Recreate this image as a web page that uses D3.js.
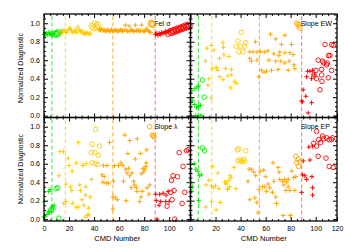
<!DOCTYPE html>
<html>
<head>
<meta charset="utf-8">
<script src="https://cdn.jsdelivr.net/npm/d3@7"></script>
<style>body{margin:0;background:#fff}</style>
</head>
<body>
<script>
const groupColors = ['#00ee00', '#ffcc00', '#ffa500', '#ff0000']
const lineColors = ['#33ee33', '#ffd24d', '#ffad33', '#ff6f6f']
const cutLines = [6.3, 17, 55, 88.8]
const yTicks = [0, 0.2, 0.4, 0.6, 0.8, 1.0]
const xTicksLeft = [0, 20, 40, 60, 80, 100]
const xTicksRight = [0, 20, 40, 60, 80, 100, 120]
const panelNames = ['FeI σ', 'Slope EW', 'Slope λ', 'Slope EP']

// [cmd, value, group]
const feSigmaPlus = [
  [0,0.88,0],[0.8,0.89,0],[1.5,0.87,0],[2.2,0.89,0],[3,0.88,0],[3.8,0.90,0],[4.5,0.88,0],[5.2,0.89,0],[6,0.87,0],[6.8,0.89,0],[7.5,0.88,0],
  [13,0.89,1],[14,0.92,1],[15,0.90,1],[16,0.93,1],[17,0.91,1],[18,0.90,1],[19,0.92,1],[20,0.94,1],[21,0.95,1],[22,0.92,1],[23,0.90,1],[24,0.91,1],[25,0.93,1],
  [26,0.90,1],[27,0.96,1],[28,0.93,1],[29,0.91,1],[30,0.92,1],[31,0.89,1],[32,0.90,1],[33,0.88,1],[34,0.90,1],[35,0.89,1],[36,0.88,1],[37,0.89,1],
  [44,0.93,2],[45,0.92,2],[46,0.94,2],[47,0.92,2],[48,0.93,2],[49,0.91,2],[50,0.92,2],[51,0.93,2],[52,0.91,2],[53,0.92,2],[54,0.93,2],[55,0.91,2],
  [56,0.92,2],[57,0.93,2],[58,0.92,2],[59,0.91,2],[60,0.92,2],[61,0.93,2],[62,0.92,2],[63,0.91,2],[64,0.93,2],[65,0.98,2],[66,0.92,2],[67,0.91,2],
  [68,0.97,2],[69,0.92,2],[70,0.93,2],[71,0.92,2],[72,0.91,2],[73,0.98,2],[74,0.92,2],[75,0.93,2],[76,0.91,2],[77,0.92,2],[78,0.98,2],[79,0.92,2],
  [80,0.91,2],[81,0.92,2],[82,0.94,2],[83,0.92,2],[84,0.91,2],[85,0.90,2],
  [89,0.88,3],[90,0.89,3],[91,0.87,3],[92,0.89,3],[93,0.88,3],[94,0.90,3],[95,0.89,3],[96,0.90,3],[97,0.91,3],[98,0.90,3],[99,0.91,3],[100,0.92,3]
]
const feSigmaRing = [
  [8.5,0.88,0],[9.5,0.89,0],[10.5,0.88,0],[11.5,0.90,0],
  [38.5,0.97,1],[39.8,0.95,1],[40.6,0.99,1],[41.9,0.96,1],[43,0.98,1],
  [85.5,1.0,2],[86.3,0.99,2],[87,0.985,2],
  [99,0.89,3],[101,0.91,3],[102,0.90,3],[103,0.92,3],[104,0.91,3],[105,0.93,3],[106,0.92,3],[107,0.94,3],[108,0.93,3],[109,0.95,3],
  [110,0.94,3],[111,0.96,3],[112,0.95,3],[113,0.97,3],[114,0.96,3],[115,0.98,3],[116,0.97,3]
]

const slopeEWPlus = [
  [0.3,0.34,0],[1.0,0.27,0],[3.5,0.29,0],[5.2,0.31,0],[6.7,0.32,0],[0.1,0.18,0],[1.5,0.16,0],[3.0,0.12,0],[4.8,0.09,0],[6.5,0.10,0],[8,0.11,0],[3.8,0,0],[6.2,0,0],[8.2,0,0],
  [13.1,0.73,1],[16.6,0.76,1],[12.0,0.59,1],[18.7,0.71,1],[25.9,0.79,1],[26.4,0.74,1],[23.2,0.62,1],[26.7,0.66,1],[30.7,0.64,1],[17.4,0.51,1],[20.6,0.52,1],[21.9,0.49,1],
  [28,0.51,1],[32.6,0.50,1],[23.2,0.42,1],[25.9,0.39,1],[29.9,0.43,1],[32.6,0.44,1],[35.3,0.37,1],[36.6,0.35,1],[32,0.30,1],[14.7,0.40,1],[13.9,0.33,1],[16.6,0.19,1],
  [51.8,0.80,2],[47.3,0.69,2],[49.9,0.69,2],[53.1,0.69,2],[55.8,0.69,2],[59.3,0.69,2],[61.9,0.70,2],[63.8,0.88,2],[68.1,0.83,2],[75.3,0.87,2],[72.7,0.77,2],[80.7,0.77,2],
  [71.3,0.69,2],[66.5,0.67,2],[70.5,0.65,2],[75.3,0.68,2],[79.3,0.68,2],[82,0.66,2],[47.3,0.62,2],[48.6,0.59,2],[53.1,0.60,2],[62.5,0.60,2],[68.1,0.59,2],[72.1,0.59,2],
  [75.3,0.57,2],[78.8,0.59,2],[82.5,0.55,2],[83.3,0.51,2],[70,0.50,2],[64.7,0.49,2],[56.7,0.49,2],[58.7,0.47,2],[60.7,0.48,2],[78,0.49,2],[54.7,0.42,2],
  [93.5,0.48,3],[95.4,0.48,3],[97.5,0.49,3],[92.7,0.42,3],[96.7,0.40,3],[98.8,0.44,3],[90,0.28,3],[92.1,0.21,3],[88.7,0.16,3],[89.3,0.15,3],[96.7,0.14,3],[94,0.03,3]
]
const slopeEWRing = [
  [9.6,0.385,0],[11,0.20,0],
  [40.6,0.90,1],[37.9,0.81,1],[44.1,0.79,1],[36.6,0.75,1],[40,0.75,1],[43.3,0.75,1],[38.7,0.69,1],[41.9,0.69,1],
  [84.7,1.0,2],[86,0.99,2],[87.3,0.95,2],[86.5,0.97,2],
  [107.4,0.77,3],[112.7,0.77,3],[114,0.76,3],[111.4,0.65,3],[102,0.60,3],[105.5,0.59,3],[106.6,0.57,3],[109.2,0.57,3],[108.7,0.55,3],[100.2,0.49,3],
  [104.7,0.50,3],[112.7,0.49,3],[98.6,0.44,3],[100.7,0.40,3],[104.7,0.44,3],[110,0.41,3],[103.4,0.28,3],[105,0.37,3],[110.3,0.65,3]
]

const slopeLamPlus = [
  [0.3,0.19,0],[0.5,0.03,0],[2.4,0.05,0],[3.5,0.08,0],[3.7,0.30,0],[5,0.32,0],[4.3,0.07,0],[4.8,0.11,0],[6.2,0.08,0],[6.4,0.13,0],[7.0,0.14,0],[7.7,0.11,0],[8,0.15,0],[0,0.02,0],
  [12.8,0.73,1],[15.5,0.73,1],[12.0,0.47,1],[19.3,0.66,1],[20,0.58,1],[17.5,0.38,1],[21.3,0.35,1],[22.2,0.31,1],[15.7,0.17,1],[17.6,0.19,1],[23,0.17,1],[25.6,0.13,1],
  [27.5,0.13,1],[27.6,0.83,1],[33.7,0.60,1],[25.8,0.61,1],[31,0.58,1],[35.5,0.12,1],[32.9,0.02,1],[34.7,0.04,1],[28.6,0.37,1],[33.4,0.35,1],[29.1,0.31,1],[33.1,0.26,1],
  [36.9,0.24,1],[30.2,0.21,1],[22.5,0.52,1],[31.8,0.15,1],[35.8,0.05,1],[37.9,0.43,1],
  [52.3,0.83,2],[47.5,0.58,2],[50.2,0.58,2],[46.3,0.48,2],[48.1,0.46,2],[47,0.40,2],[49.7,0.39,2],[51.5,0.39,2],[55.5,0.41,2],[55,0.24,2],[56.9,0.23,2],[55,0.11,2],
  [56.3,0.58,2],[59.5,0.58,2],[61.4,0.61,2],[63,0.58,2],[64.5,0.91,2],[68.5,0.85,2],[74.5,0.87,2],[67.5,0.55,2],[66.3,0.50,2],[63.5,0.41,2],[65.7,0.20,2],[58.7,0.21,2],
  [70.3,0.50,2],[71.6,0.41,2],[69.7,0.34,2],[73.7,0.34,2],[74.3,0.30,2],[77.5,0.24,2],[72.9,0.65,2],[77,0.71,2],[79.6,0.51,2],[80.4,0.54,2],[81.5,0.57,2],[82,0.75,2],
  [82.3,0.34,2],[81.7,0.61,2],[65.2,0.54,2],[68.4,0.47,2],[79.1,0.55,2],[77.7,0.49,2],[72.4,0.37,2],[84.4,0.37,2],[78.5,0.30,2],[83.9,0.27,2],[76.4,0.19,2],[67,0.71,2],
  [89.2,0.27,3],[92.4,0.27,3],[95.1,0.28,3],[99.1,0.30,3],[97.5,0.26,3],[89.7,0.20,3],[93.2,0.19,3],[97.2,0.19,3],[99.9,0.19,3],[91.9,0.15,3],[90.3,0,3]
]
const slopeLamRing = [
  [9.6,0.33,0],[11,0.34,0],[11.8,0.01,0],
  [41.1,0.97,1],[38.5,0.81,1],[44.3,0.79,1],[37.9,0.72,1],[40.6,0.72,1],[43.3,0.69,1],[38.5,0.61,1],[41.1,0.60,1],[43,0.59,1],
  [84.4,1.0,2],[86.5,0.91,2],[87.9,0.89,2],[87.2,0.90,2],
  [101.8,0.42,3],[103.1,0.47,3],[106.6,0.46,3],[111.1,0.57,3],[113.8,0.74,3],[115.2,0.75,3],[108,0.72,3],[103.9,0.31,3],[101.2,0.29,3],
  [112.4,0.29,3],[110.3,0.17,3],[98.3,0.14,3],[102.3,0.21,3],[104.4,0,3]
]

const slopeEPPlus = [
  [3.1,0.60,0],[4.1,0.54,0],[5.9,0.52,0],[7.1,0.47,0],[8.7,0.48,0],[0.2,0.40,0],[1.4,0.35,0],[1.0,0.30,0],[6.5,0.20,0],
  [17.5,0.57,1],[14.7,0.42,1],[16.6,0.36,1],[20,0.36,1],[21.8,0.50,1],[22.7,0.33,1],[28.6,0.40,1],[30.7,0.42,1],[32.5,0.45,1],[31.3,0.35,1],[34.8,0.56,1],[36.2,0.33,1],
  [29.9,0.33,1],[16.7,0.19,1],[12.1,0.13,1],[20.5,0.10,1],[23.8,0.18,1],[12.3,0.37,1],[18.4,0.34,1],[27.2,0.40,1],[31.5,0.47,1],[28.3,0.38,1],[29.6,0.32,1],
  [46.7,0.54,2],[48.6,0.54,2],[45.9,0.41,2],[50.5,0.51,2],[52.1,0.47,2],[47.3,0.21,2],[51.3,0.23,2],[53.1,0.18,2],[53.9,0.07,2],[54.7,0.32,2],[55.8,0.52,2],[57.5,0.35,2],
  [59.3,0.35,2],[60.7,0.30,2],[58.5,0.53,2],[63.3,0.34,2],[65.5,0.29,2],[65.9,0.61,2],[66.5,0.41,2],[68.1,0.24,2],[68.7,0.17,2],[70,0.56,2],[70.8,0.51,2],[71.3,0.43,2],
  [73.5,0.41,2],[75.3,0.43,2],[76.7,0.40,2],[78,0.43,2],[74.5,0.37,2],[78,0.35,2],[76.1,0.31,2],[79.3,0.31,2],[83.3,0.31,2],[74,0.04,2],[79.9,0.04,2],[84.1,0.46,2],
  [60.1,0.46,2],[80.9,0.52,2],[82.3,0.45,2],[62,0.38,2],
  [90,0.63,3],[95.4,0.64,3],[89.5,0.48,3],[91.3,0.47,3],[92.7,0.43,3],[88.7,0.29,3],[97.5,0.34,3],[97.5,0.26,3],[94.5,0.78,3],[97.5,0.79,3],[97,0.46,3]
]
const slopeEPRing = [
  [9.5,0.77,0],[11.3,0.74,0],
  [37.4,0.75,1],[38.7,0.76,1],[44.1,0.74,1],[39.3,0.64,1],[40.6,0.63,1],[42.5,0.65,1],[37.9,0.63,1],[43.3,0.63,1],[41.4,0.62,1],
  [84.1,0.68,2],[86,0.65,2],[84.7,0.61,2],[87.3,0.62,2],[86.3,0.57,2],
  [100.7,0.95,3],[105.5,0.90,3],[108.7,0.88,3],[110.8,0.86,3],[112.7,0.86,3],[103.9,0.83,3],[100.7,0.79,3],[98.3,0.82,3],[102.3,0.86,3],
  [106.3,0.87,3],[113.5,0.88,3],[102,0.68,3],[108.2,0.66,3],[110.8,0.57,3],[114,0.56,3]
]

const panels = [
  { name: panelNames[0], plus: feSigmaPlus, ring: feSigmaRing, col: 0, row: 0, r: 3.1 },
  { name: panelNames[1], plus: slopeEWPlus, ring: slopeEWRing, col: 1, row: 0, r: 2.3 },
  { name: panelNames[2], plus: slopeLamPlus, ring: slopeLamRing, col: 0, row: 1, r: 2.3 },
  { name: panelNames[3], plus: slopeEPPlus, ring: slopeEPRing, col: 1, row: 1, r: 2.3 },
]

const colX = [[44, 190.5], [190.5, 337]]
const rowY = [[117.5, 14], [221, 117.5]]
const font = 'Liberation Sans, Arial, sans-serif'

const svgEl = d3.create('svg')
svgEl.attr('width', 350)
svgEl.attr('height', 250)
svgEl.style('background', '#fff')

panels.forEach((p) => {
  const x = d3.scaleLinear().domain([0, 117]).range(colX[p.col]).clamp(true)
  const y = d3.scaleLinear().domain([-0.02, 1.1]).range(rowY[p.row])
  const g = svgEl.append('g')

  g.selectAll('line.cut')
    .data(cutLines)
    .join('line')
    .attr('x1', (d) => x(d)).attr('x2', (d) => x(d))
    .attr('y1', y.range()[0]).attr('y2', y.range()[1])
    .attr('stroke', (d, i) => lineColors[i])
    .attr('stroke-width', 1)
    .attr('stroke-dasharray', '4,2.5')

  g.append('text')
    .attr('x', x(88))
    .attr('y', y(1.0))
    .attr('dy', '0.35em')
    .attr('font-family', font)
    .attr('font-size', 7)
    .text(p.name)

  g.selectAll('path.plus')
    .data(p.plus)
    .join('path')
    .attr('transform', (d) => `translate(${x(d[0])},${y(d[1])})`)
    .attr('d', 'M-2.3,0H2.3M0,-2.3V2.3')
    .attr('stroke', (d) => groupColors[d[2]])
    .attr('stroke-width', 1)

  g.selectAll('circle.ring')
    .data(p.ring)
    .join('circle')
    .attr('cx', (d) => x(d[0]))
    .attr('cy', (d) => y(d[1]))
    .attr('r', p.r)
    .attr('fill', 'none')
    .attr('stroke', (d) => groupColors[d[2]])
    .attr('stroke-width', 0.9)

  const [x0, x1] = x.range()
  const [yb, yt] = y.range()
  const xt = p.col === 0 ? xTicksLeft : xTicksRight
  const minorX = d3.range(0, 118, 5).filter((v) => v % 20 !== 0)
  const minorY = d3.range(0, 1.1, 0.05).filter((v, i) => i % 4 !== 0)

  const axes = [
    [d3.axisBottom(x).tickValues(xt), `translate(0,${yb})`, p.row === 1, d3.axisBottom(x).tickValues(minorX)],
    [d3.axisTop(x).tickValues(xt), `translate(0,${yt})`, false, d3.axisTop(x).tickValues(minorX)],
    [d3.axisLeft(y).tickValues(yTicks), `translate(${x0},0)`, p.col === 0, d3.axisLeft(y).tickValues(minorY)],
    [d3.axisRight(y).tickValues(yTicks), `translate(${x1},0)`, false, d3.axisRight(y).tickValues(minorY)],
  ]
  axes.forEach(([ax, tr, labels, minor], k) => {
    ax.tickSizeInner(-4).tickSizeOuter(0).tickPadding(k < 2 ? 5.5 : 4)
    if (k >= 2) ax.tickFormat(d3.format('.1f'))
    if (!labels) ax.tickFormat('')
    const a = g.append('g').attr('transform', tr).call(ax)
    a.select('.domain').remove()
    a.selectAll('text').attr('font-family', font).attr('font-size', 7).attr('fill', '#000')
    const m = g.append('g').attr('transform', tr).call(minor.tickSizeInner(-2).tickSizeOuter(0).tickFormat(''))
    m.select('.domain').remove()
  })

  g.append('rect')
    .attr('x', x0).attr('y', yt)
    .attr('width', x1 - x0).attr('height', yb - yt)
    .attr('fill', 'none')
    .attr('stroke', '#000')
    .attr('stroke-width', 1.3)

  if (p.col === 0) {
    g.append('text')
      .attr('transform', `translate(21,${p.row === 0 ? 68 : 169}) rotate(-90)`)
      .attr('text-anchor', 'middle')
      .attr('dy', '0.35em')
      .attr('font-family', font)
      .attr('font-size', 7)
      .text('Normalized Diagnostic')
  }
  if (p.row === 1) {
    g.append('text')
      .attr('x', (x0 + x1) / 2)
      .attr('y', 238.5)
      .attr('text-anchor', 'middle')
      .attr('dy', '0.35em')
      .attr('font-family', font)
      .attr('font-size', 7.5)
      .text('CMD Number')
  }
})

document.body.appendChild(svgEl.node())
</script>
</body>
</html>
